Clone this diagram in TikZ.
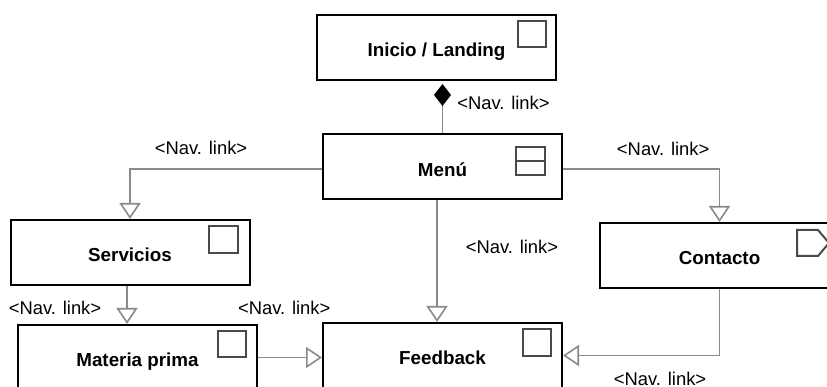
\documentclass[tikz,border=0pt]{standalone}
\usepackage{fontspec}
\setmainfont{Liberation Sans}
\usepackage{xcolor}
\usetikzlibrary{arrows.meta,positioning}
\definecolor{linkgray}{HTML}{8A8A8A}
\definecolor{icongray}{HTML}{4A4A4A}

\begin{document}
\begin{tikzpicture}[
  x=1pt, y=1pt,
  font=\fontsize{18.4}{22}\selectfont,
  page/.style={draw, line width=2pt, minimum width=239pt, minimum height=65pt,
               text height=18.4pt, text depth=0pt,
               font=\fontsize{18.8}{22}\selectfont\bfseries, fill=white},
  icon/.style={draw=icongray, line width=2pt},
  navlink/.style={draw=linkgray, line width=1.6pt,
                  -{Triangle[fill=white, length=16pt, width=21pt]}},
  lbl/.style={inner sep=0pt},
]
\path[use as bounding box, clip] (0,0) rectangle (827,387);
\node[page] (inicio)   at (436.5,339.5) {Inicio / Landing};
\node[page] (menu)     at (442.5,220)   {Menú};
\node[page] (serv)     at (130,134.5)   {Servicios};
\node[page] (contacto) at (719.5,131.5) {Contacto};
\node[page] (materia)  at (137.5,29.5)  {Materia prima};
\node[page] (feedback) at (442.5,31.5)  {Feedback};
% icons
\draw[icon] ([xshift=-11pt,yshift=-7pt]inicio.north east) rectangle ++(-28,-26);
\draw[icon] ([xshift=-18pt,yshift=-14pt]menu.north east) rectangle ++(-29,-28);
\draw[icon] ([xshift=-18pt,yshift=-28pt]menu.north east) -- ++(-29,0);
\draw[icon] ([xshift=-13pt,yshift=-7pt]serv.north east) rectangle ++(-29,-27);
\draw[icon] ([xshift=-12pt,yshift=-7pt]materia.north east) rectangle ++(-28,-26);
\draw[icon] ([xshift=-12pt,yshift=-7pt]feedback.north east) rectangle ++(-28,-27);
\draw[icon] ([xshift=-43pt,yshift=-8pt]contacto.north east) -- ++(21,0) -- ++(11,-13)
  -- ++(-11,-13) -- ++(-21,0) -- cycle;
% links
\draw[draw=linkgray, line width=1.6pt, {Diamond[color=black, length=22pt, width=17pt]}-,
  shorten <=3pt] (inicio.south -| menu.north) -- (menu.north)
  node[lbl, pos=0.42, right=14pt]{<Nav. link>};
\draw[navlink] ([yshift=-2pt]menu.west) -| (serv.north)
  node[lbl, pos=0.315, above=14pt]{<Nav. link>};
\draw[navlink] ([yshift=-2pt]menu.east) -| (contacto.north)
  node[lbl, pos=0.32, above=13pt]{<Nav. link>};
\draw[navlink] ([xshift=-5.5pt]menu.south) -- ([xshift=-5.5pt]feedback.north)
  node[lbl, pos=0.38, right=28pt]{<Nav. link>};
\draw[navlink] ([xshift=-3pt]serv.south) -- ([xshift=-3pt]serv.south |- materia.north)
  node[lbl, pos=0.58, left=25pt]{<Nav. link>};
\draw[navlink] (materia.east) -- (materia.east -| feedback.west)
  node[lbl, pos=0.41, above=42pt]{<Nav. link>};
\draw[navlink] (contacto.south) |- (feedback.east)
  node[lbl, pos=0.69, below=16pt]{<Nav. link>};
\end{tikzpicture}
\end{document}
